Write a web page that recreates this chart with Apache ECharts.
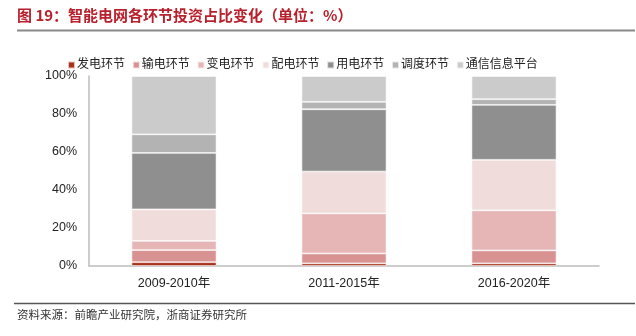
<!DOCTYPE html>
<html>
<head>
<meta charset="utf-8">
<script src="https://cdn.jsdelivr.net/npm/echarts@6/dist/echarts.min.js"></script>
<style>
  html, body { margin: 0; padding: 0; background: #fff; }
  #chart { width: 636px; height: 336px; }
</style>
</head>
<body>
<div id="chart"></div>
<script>
// Periods on the x axis
const categories = ['2009-2010年', '2011-2015年', '2016-2020年'];

// Share of investment by segment (%), one array per segment
const seriesNames = ['发电环节', '输电环节', '变电环节', '配电环节', '用电环节', '调度环节', '通信信息平台'];
const fadian   = [2.0, 1.4, 1.4];
const shudian  = [6.4, 5.2, 6.8];
const biandian = [4.8, 21.1, 21.1];
const peidian  = [16.6, 22.0, 26.6];
const yongdian = [29.7, 32.8, 28.9];
const diaodu   = [9.8, 3.9, 3.0];
const tongxin  = [30.7, 13.6, 12.2];

const yTicks = [0, 20, 40, 60, 80, 100];

const seriesData = [fadian, shudian, biandian, peidian, yongdian, diaodu, tongxin];
const colors = ['#a8321c', '#d89292', '#e6b6b6', '#f1dcdc', '#8f8f8f', '#b3b3b3', '#cbcbcb'];

const font = '"Liberation Sans", "Noto Sans CJK SC", sans-serif';

const chart = echarts.init(document.getElementById('chart'), null, { renderer: 'canvas' });

chart.setOption({
  animation: false,
  color: colors,
  textStyle: { fontFamily: font },
  grid: { left: 89, right: 37, top: 76, bottom: 70 },
  legend: {
    top: 54,
    left: 62,
    itemWidth: 7,
    itemHeight: 7,
    itemGap: 6.8,
    icon: 'rect',
    textStyle: { fontSize: 12, color: '#222', fontFamily: font, padding: [0, 0, 0, -3] },
    data: seriesNames
  },
  xAxis: {
    type: 'category',
    data: categories,
    axisLine: { lineStyle: { color: '#bdbdbd', width: 1.5 } },
    axisTick: { show: false },
    axisLabel: { color: '#222', fontSize: 12.5, margin: 11, fontFamily: font }
  },
  yAxis: {
    type: 'value',
    min: yTicks[0],
    max: yTicks[yTicks.length - 1],
    interval: 20,
    axisLine: { show: true, lineStyle: { color: '#bdbdbd', width: 1.5 } },
    axisTick: { show: false },
    splitLine: { show: false },
    axisLabel: { color: '#222', fontSize: 12.5, margin: 12, formatter: '{value}%', fontFamily: font }
  },
  series: seriesNames.map((name, i) => ({
    name: name,
    type: 'bar',
    stack: 'total',
    barWidth: '50%',
    data: seriesData[i],
    itemStyle: { borderColor: 'rgba(255,255,255,0.7)', borderWidth: 0.8 }
  })),
  graphic: [
    {
      type: 'text', left: 17, top: 8,
      style: {
        text: '图 19：智能电网各环节投资占比变化（单位：%）',
        fill: '#b8202c', font: 'bold 15px "Noto Sans CJK SC", sans-serif'
      }
    },
    {
      type: 'line',
      shape: { x1: 17, y1: 30.5, x2: 635, y2: 30.5 },
      style: { stroke: '#8a8a8a', lineWidth: 2 }
    },
    {
      type: 'line',
      shape: { x1: 14, y1: 303.5, x2: 635, y2: 303.5 },
      style: { stroke: '#555', lineWidth: 1.5 }
    },
    {
      type: 'text', left: 17, top: 309,
      style: {
        text: '资料来源：前瞻产业研究院，浙商证券研究所',
        fill: '#333', font: '11.5px "Noto Sans CJK SC", sans-serif'
      }
    }
  ]
});
</script>
</body>
</html>
